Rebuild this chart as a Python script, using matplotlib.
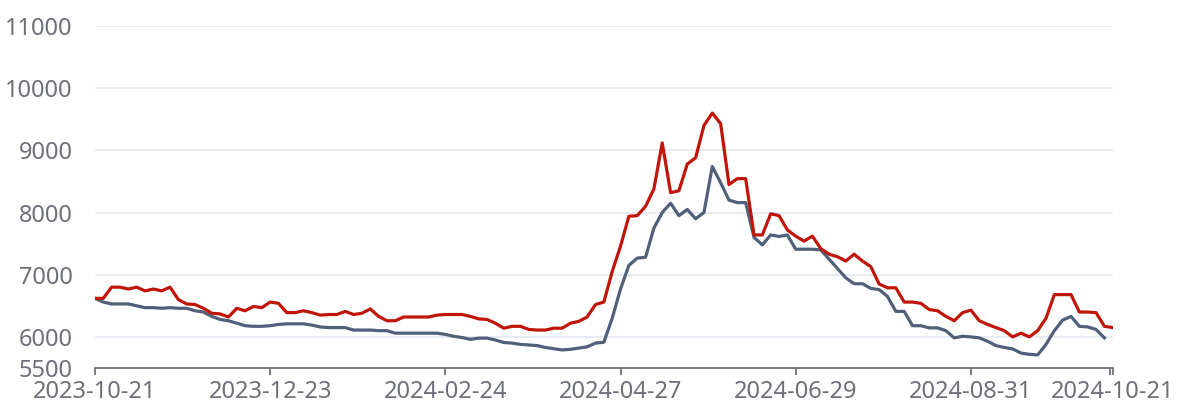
import pandas as pd
import numpy as np
import matplotlib
matplotlib.use("Agg")
import matplotlib.pyplot as plt
import matplotlib.dates as mdates

# every 3rd day, 2023-10-21 .. 2024-10-21
dates = pd.date_range("2023-10-21", "2024-10-21", freq="3D")

red_vals = [
    6620, 6620, 6800, 6800, 6770, 6800, 6740, 6770, 6740, 6800,
    6600, 6530, 6520, 6460, 6380, 6370, 6320, 6460, 6420, 6490,
    6470, 6560, 6540, 6390, 6390, 6420, 6390, 6350, 6360, 6360,
    6410, 6360, 6380, 6450, 6330, 6260, 6260, 6320, 6320, 6320,
    6320, 6350, 6360, 6360, 6360, 6330, 6290, 6280, 6220, 6140,
    6170, 6170, 6120, 6110, 6110, 6140, 6140, 6220, 6250, 6320,
    6520, 6560, 7050, 7460, 7940, 7950, 8100, 8380, 9120, 8320,
    8350, 8780, 8880, 9400, 9600, 9430, 8450, 8545, 8545, 7640,
    7640, 7980, 7950, 7720, 7620, 7540, 7620, 7420, 7330, 7290,
    7220, 7330, 7220, 7130, 6850, 6790, 6790, 6560, 6560, 6540,
    6440, 6420, 6330, 6260, 6390, 6430, 6260, 6200, 6150, 6100,
    6000, 6060, 6000, 6100, 6300, 6680, 6680, 6680, 6400, 6400,
    6390, 6170, 6150,
]

gray_vals = [
    6620, 6560, 6530, 6530, 6530, 6500, 6470, 6470, 6460, 6470,
    6460, 6460, 6420, 6400, 6330, 6280, 6260, 6220, 6180, 6170,
    6170, 6180, 6200, 6210, 6210, 6210, 6190, 6160, 6150, 6150,
    6150, 6110, 6110, 6110, 6100, 6100, 6060, 6060, 6060, 6060,
    6060, 6060, 6040, 6010, 5990, 5960, 5980, 5980, 5950, 5910,
    5900, 5880, 5870, 5860, 5830, 5810, 5790, 5800, 5820, 5840,
    5900, 5914, 6300, 6770, 7150, 7267, 7280, 7750, 8000, 8150,
    7950, 8050, 7900, 8000, 8740, 8480, 8200, 8160, 8160, 7600,
    7480, 7640, 7615, 7640, 7410, 7410, 7410, 7400, 7250, 7100,
    6950, 6855, 6855, 6780, 6760, 6650, 6410, 6410, 6180, 6180,
    6145, 6145, 6100, 5984, 6010, 6000, 5984, 5930, 5860, 5830,
    5807, 5740, 5720, 5710, 5880, 6100, 6270, 6330, 6170, 6160,
    6120, 5984, np.nan,
]

tick_dates = ["2023-10-21", "2023-12-23", "2024-02-24", "2024-04-27",
              "2024-06-29", "2024-08-31", "2024-10-21"]
y_ticks = [5500, 6000, 7000, 8000, 9000, 10000, 11000]

plt.rcParams["font.family"] = ["Noto Sans", "DejaVu Sans"]

fig = plt.figure(figsize=(11.78, 4.05), dpi=100)
ax = fig.add_axes([0.0806, 0.0914, 0.864, 0.8444])

ax.plot(dates, gray_vals, color="#51607a", lw=2.3, zorder=3)
ax.plot(dates, red_vals, color="#c0160a", lw=2.3, zorder=4)

ax.set_ylim(5500, 11000)
ax.set_xlim(pd.Timestamp("2023-10-21"), pd.Timestamp("2024-10-21"))
ax.set_yticks(y_ticks)
ax.set_xticks(pd.to_datetime(tick_dates))
ax.set_xticks([pd.Timestamp("2024-10-20")], minor=True)
ax.xaxis.set_major_formatter(mdates.DateFormatter("%Y-%m-%d"))

ax.grid(axis="y", color="#e0e6f1", lw=1.2)
ax.set_axisbelow(True)
for s in ["top", "right", "left"]:
    ax.spines[s].set_visible(False)
ax.spines["bottom"].set_color("#6e7079")
ax.spines["bottom"].set_linewidth(1.3)

ax.tick_params(axis="y", length=0, pad=16, labelsize=17, labelcolor="#6e7079")
ax.tick_params(axis="x", length=5, width=1.3, color="#6e7079", pad=4,
               labelsize=17, labelcolor="#6e7079")
ax.tick_params(axis="x", which="minor", length=5, width=1.3, color="#6e7079")

fig.savefig("out.png", dpi=100)
